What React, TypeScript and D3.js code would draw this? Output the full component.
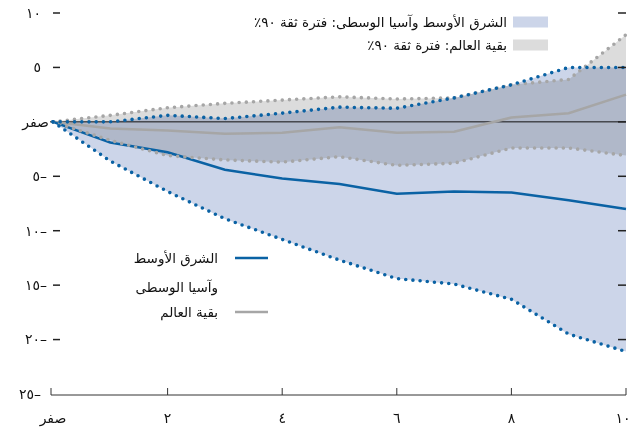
import * as d3 from "d3";
import {useRef, useEffect} from "react";

const years = [0, 1, 2, 3, 4, 5, 6, 7, 8, 9, 10];
const meCentral = [0, -1.9, -2.8, -4.4, -5.2, -5.7, -6.6, -6.4, -6.5, -7.2, -8.0];
const meUpper = [0, 0, 0.6, 0.3, 0.8, 1.35, 1.25, 2.2, 3.4, 5.0, 5.0];
const meLower = [0, -3.6, -6.4, -8.9, -10.8, -12.7, -14.4, -14.9, -16.3, -19.5, -21.1];
const rowCentral = [0, -0.6, -0.8, -1.1, -1.0, -0.5, -1.0, -0.9, 0.4, 0.8, 2.5];
const rowUpper = [0, 0.6, 1.3, 1.7, 2.0, 2.3, 2.1, 2.2, 3.4, 3.9, 8.0];
const rowLower = [0, -1.7, -3.1, -3.5, -3.7, -3.2, -4.0, -3.8, -2.4, -2.4, -3.1];

const yTicks = [10, 5, 0, -5, -10, -15, -20, -25];
const yTickLabels = ["١٠", "٥", "صفر", "٥–", "١٠–", "١٥–", "٢٠–", "٢٥–"];
const xTicks = [0, 2, 4, 6, 8, 10];
const xTickLabels = ["صفر", "٢", "٤", "٦", "٨", "١٠"];

const bandLabels = ["الشرق الأوسط وآسيا الوسطى: فترة ثقة ٩٠٪", "بقية العالم: فترة ثقة ٩٠٪"];
const lineLabels = [["الشرق الأوسط", "وآسيا الوسطى"], ["بقية العالم"]];

const BLUE = "#0a62a4";
const BLUE_FILL = "#ccd5e9";
const GREY = "#a6a6a6";
const GREY_FILL = "#dcdcdc";
const FONT = "'DejaVu Sans', sans-serif";

export default function App() {
    const svgRef = useRef(null);

    useEffect(() => {
        const svg = d3.select(svgRef.current);
        svg.selectAll("*").remove();

        const x = d3.scaleLinear().domain([0, 10]).range([53, 626]);
        const y = d3.scaleLinear().domain([-25, 10]).range([394, 13]);

        const idx = years.map((_, i) => i);
        const area = (lo: number[], hi: number[]) => d3.area<number>()
            .x(i => x(years[i]))
            .y0(i => y(lo[i]))
            .y1(i => y(hi[i]))(idx);
        const line = (vals: number[]) => d3.line<number>()
            .x(i => x(years[i]))
            .y(i => y(vals[i]))(idx);

        // bands
        svg.append("path").attr("d", area(meLower, meUpper)).attr("fill", BLUE_FILL);
        svg.append("path").attr("d", area(rowLower, rowUpper)).attr("fill", GREY_FILL)
            .style("mix-blend-mode", "multiply");

        // zero line
        svg.append("line")
            .attr("x1", 50).attr("x2", 626)
            .attr("y1", y(0)).attr("y2", y(0))
            .attr("stroke", "#111").attr("stroke-width", 1);

        // central lines
        svg.append("path").attr("d", line(rowCentral))
            .attr("fill", "none").attr("stroke", GREY).attr("stroke-width", 2.5);
        svg.append("path").attr("d", line(meCentral))
            .attr("fill", "none").attr("stroke", BLUE).attr("stroke-width", 2.5);

        // dotted bounds
        const dotted = (vals: number[], color: string) =>
            svg.append("path").attr("d", line(vals))
                .attr("fill", "none").attr("stroke", color)
                .attr("stroke-width", 3.6)
                .attr("stroke-linecap", "round")
                .attr("stroke-dasharray", "0 7.2");
        dotted(rowUpper, GREY);
        dotted(rowLower, GREY);
        dotted(meUpper, BLUE);
        dotted(meLower, BLUE);

        // y axis labels and ticks
        yTicks.forEach((v, i) => {
            const yy = y(v);
            const neg = v < 0;
            const last = v === -25;
            const t = svg.append("text")
                .attr("x", v === 0 ? 49 : last ? 41 : neg ? 47 : 41)
                .attr("y", yy)
                .attr("dy", "0.35em")
                .attr("text-anchor", "end")
                .attr("font-family", FONT)
                .attr("font-size", 14)
                .attr("fill", "#111")
                .text(yTickLabels[i]);
            if (v !== 0) t.style("direction", "ltr").style("unicode-bidi", "bidi-override");
            if (v !== 0 && !last) {
                svg.append("line").attr("x1", 53).attr("x2", 60)
                    .attr("y1", yy).attr("y2", yy)
                    .attr("stroke", "#222").attr("stroke-width", 1.5);
            }
            if (!last) {
                svg.append("line").attr("x1", 618).attr("x2", 626)
                    .attr("y1", yy).attr("y2", yy)
                    .attr("stroke", "#222").attr("stroke-width", 1.5);
            }
        });

        // x axis
        const base = 395;
        svg.append("line").attr("x1", 51).attr("x2", 626)
            .attr("y1", base).attr("y2", base)
            .attr("stroke", "#333").attr("stroke-width", 1);
        xTicks.forEach((v, i) => {
            const xx = i === 0 ? 51 : x(v);
            svg.append("line").attr("x1", xx).attr("x2", xx)
                .attr("y1", base).attr("y2", base - 7)
                .attr("stroke", "#333").attr("stroke-width", 1);
            svg.append("text")
                .attr("x", i === xTicks.length - 1 ? x(v) - 3 : x(v))
                .attr("y", 418)
                .attr("dy", "0.35em")
                .attr("text-anchor", "middle")
                .attr("font-family", FONT)
                .attr("font-size", 14)
                .attr("fill", "#111")
                .text(xTickLabels[i]);
        });

        // band legend (rtl text: "start" anchors the right edge)
        [BLUE_FILL, GREY_FILL].forEach((c, i) => {
            const yy = 22 + i * 23;
            svg.append("rect").attr("x", 513).attr("y", yy - 5.5)
                .attr("width", 35).attr("height", 11).attr("fill", c);
            svg.append("text")
                .attr("x", 507).attr("y", yy)
                .attr("dy", "0.35em")
                .attr("text-anchor", "start")
                .attr("font-family", FONT)
                .attr("font-size", 13.5)
                .attr("fill", "#111")
                .style("direction", "rtl")
                .text(bandLabels[i]);
        });

        // line legend
        const legendY = [258, 312];
        [BLUE, GREY].forEach((c, i) => {
            svg.append("line").attr("x1", 235).attr("x2", 268)
                .attr("y1", legendY[i]).attr("y2", legendY[i])
                .attr("stroke", c).attr("stroke-width", 2.5);
            lineLabels[i].forEach((s, j) => {
                svg.append("text")
                    .attr("x", 218).attr("y", legendY[i] + j * 29)
                    .attr("dy", "0.35em")
                    .attr("text-anchor", "start")
                    .attr("font-family", FONT)
                    .attr("font-size", 13.5)
                    .attr("fill", "#111")
                    .style("direction", "rtl")
                    .text(s);
            });
        });
    }, []);

    return (
        <svg ref={svgRef} width={640} height={430}
             style={{position: "absolute", left: 0, top: 0, background: "#fff"}} />
    );
}
